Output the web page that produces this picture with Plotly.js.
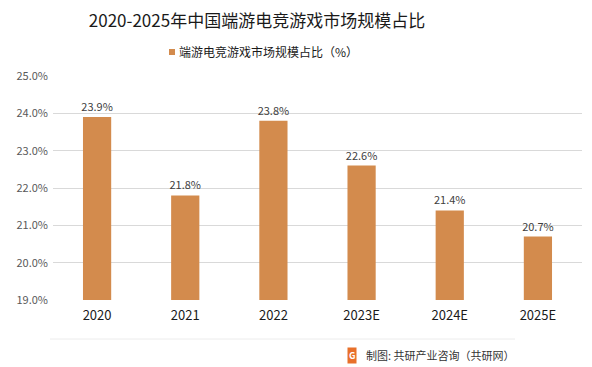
<!DOCTYPE html>
<html>
<head>
<meta charset="utf-8">
<script src="https://cdn.plot.ly/plotly-3.0.1.min.js"></script>
<style>html,body{margin:0;padding:0;background:#fff;}#chart{width:592px;height:367px;}</style>
</head>
<body>
<div id="chart"></div>
<script>
const categories = ["2020", "2021", "2022", "2023E", "2024E", "2025E"];
const shareValues = [23.9, 21.8, 23.8, 22.6, 21.4, 20.7];
const seriesName = "端游电竞游戏市场规模占比（%）";
const yTickValues = [19, 20, 21, 22, 23, 24, 25];
const yTickLabels = ["19.0%", "20.0%", "21.0%", "22.0%", "23.0%", "24.0%", "25.0%"];

const font = "'Noto Sans CJK SC', 'Noto Sans', sans-serif";
const barColor = "#D38B4D";

// plot area in pixels
const PL = 53, PR = 582, PT = 76, PB = 300;
const px = x => (x - PL) / (PR - PL);
const py = y => (PB - y) / (PB - PT);

const trace = {
  type: "bar",
  x: categories,
  y: shareValues,
  name: seriesName,
  marker: {color: barColor},
  text: shareValues.map(v => v.toFixed(1) + "%"),
  textposition: "outside",
  constraintext: "none",
  cliponaxis: false,
  textfont: {family: font, size: 11, color: "#404040"},
  hoverinfo: "skip"
};

const layout = {
  width: 592, height: 367,
  margin: {l: PL, r: 592 - PR, t: PT, b: 367 - PB, pad: 0},
  paper_bgcolor: "#fff", plot_bgcolor: "#fff",
  bargap: 0.68,
  showlegend: false,
  title: {text: "2020-2025年中国端游电竞游戏市场规模占比", font: {family: font, size: 17, color: "#1a1a1a"},
          x: 257 / 592, xref: "container", xanchor: "center", y: 1 - 21 / 367, yref: "container", yanchor: "middle"},
  xaxis: {
    type: "category", showgrid: false, zeroline: false, showline: false,
    ticks: "", tickfont: {family: font, size: 13, color: "#1a1a1a"}, ticklabelstandoff: 6
  },
  yaxis: {
    range: [19, 25], tickvals: yTickValues, ticktext: yTickLabels,
    showgrid: true, gridcolor: "#d9d9d9", gridwidth: 1, zeroline: false, showline: false,
    tickfont: {family: font, size: 11, color: "#595959"}, ticks: "", ticklabelstandoff: 4
  },
  shapes: [
    {type: "rect", xref: "paper", yref: "paper", x0: px(169), x1: px(175), y0: py(55), y1: py(49),
     fillcolor: barColor, line: {width: 0}},
    {type: "line", xref: "paper", yref: "paper", x0: px(50), x1: px(515), y0: py(339), y1: py(339),
     line: {color: "#ececec", width: 1}}
  ],
  annotations: [
    {xref: "paper", yref: "paper", x: px(177), y: py(52), xanchor: "left", yanchor: "middle",
     text: seriesName, showarrow: false, font: {family: font, size: 12, color: "#1a1a1a"}},
    {xref: "paper", yref: "paper", x: px(364), y: py(355), xanchor: "left", yanchor: "middle",
     text: "制图: 共研产业咨询（共研网）", showarrow: false, font: {family: font, size: 11, color: "#333"}},
    {xref: "paper", yref: "paper", x: px(352), y: py(355), xanchor: "center", yanchor: "middle",
     text: "<b>G</b>", showarrow: false, bgcolor: "#E8702A", font: {family: font, size: 9, color: "#fff"}}
  ]
};

Plotly.newPlot("chart", [trace], layout, {displayModeBar: false, staticPlot: true});
</script>
</body>
</html>
